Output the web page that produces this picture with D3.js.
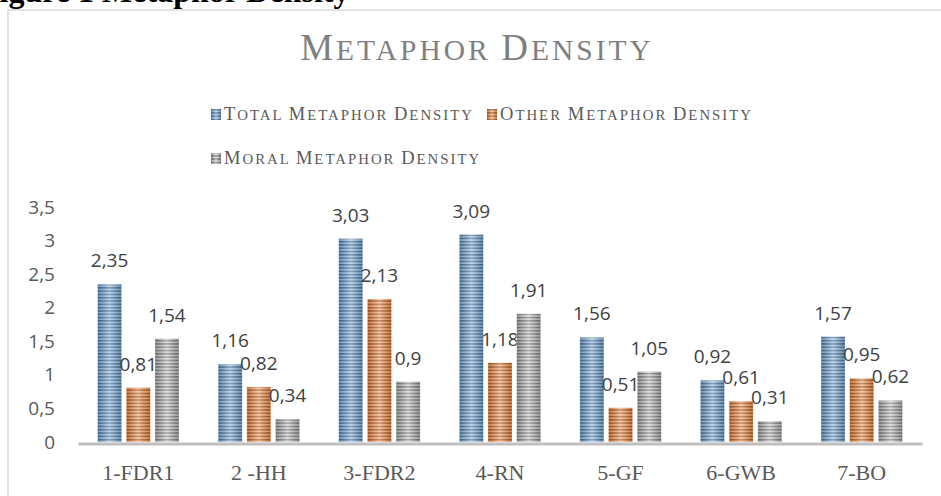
<!DOCTYPE html>
<html>
<head>
<meta charset="utf-8">
<script src="https://cdn.jsdelivr.net/npm/d3@7"></script>
<style>
  body { margin: 0; background: #fff; }
  svg { display: block; }
</style>
</head>
<body>
<script>
const categories = ["1-FDR1", "2 -HH", "3-FDR2", "4-RN", "5-GF", "6-GWB", "7-BO"];
const seriesNames = ["Total Metaphor Density", "Other Metaphor Density", "Moral Metaphor Density"];
const totalDensity = [2.35, 1.16, 3.03, 3.09, 1.56, 0.92, 1.57];
const otherDensity = [0.81, 0.82, 2.13, 1.18, 0.51, 0.61, 0.95];
const moralDensity = [1.54, 0.34, 0.9, 1.91, 1.05, 0.31, 0.62];
const yTicks = [0, 0.5, 1, 1.5, 2, 2.5, 3, 3.5];

const w = 941, h = 496;
const colors = [
  { dark: "#41719c", mid: "#5b9bd5", light: "#a9c8ea" },
  { dark: "#b85511", mid: "#ed7d31", light: "#f6b88c" },
  { dark: "#7a7a7a", mid: "#a5a5a5", light: "#d6d6d6" }
];
const series = [totalDensity, otherDensity, moralDensity];
const fmt = v => String(v).replace(".", ",");

const svg = d3.select("body").append("svg").attr("width", w).attr("height", h);
const defs = svg.append("defs");

colors.forEach((c, i) => {
  const g = defs.append("linearGradient").attr("id", "grad" + i)
    .attr("x1", 0).attr("x2", 1).attr("y1", 0).attr("y2", 0);
  g.append("stop").attr("offset", "0%").attr("stop-color", c.dark);
  g.append("stop").attr("offset", "50%").attr("stop-color", c.light);
  g.append("stop").attr("offset", "100%").attr("stop-color", c.dark);
});
const stripes = defs.append("pattern").attr("id", "stripes")
  .attr("patternUnits", "userSpaceOnUse").attr("width", 8).attr("height", 3.3);
stripes.append("rect").attr("width", 8).attr("height", 1.5).attr("fill", "rgba(0,0,0,0.22)");
stripes.append("rect").attr("y", 1.5).attr("width", 8).attr("height", 1.8).attr("fill", "rgba(255,255,255,0.25)");

// page caption, cut at the top
svg.append("text").attr("x", -20).attr("y", 2)
  .attr("font-family", "Liberation Serif").attr("font-weight", "bold").attr("font-size", 32)
  .attr("fill", "#000").text("Figure 1 Metaphor Density");

// chart frame
svg.append("path").attr("d", "M8,496 V10 H941").attr("fill", "none")
  .attr("stroke", "#d9d9d9").attr("stroke-width", 1.5);

// small caps helper
function smallCaps(sel, str, big, small, spacing) {
  str.split("").forEach(ch => {
    const up = ch === ch.toUpperCase() && ch !== " ";
    sel.append("tspan").attr("font-size", up ? big : small)
      .attr("letter-spacing", spacing).text(ch.toUpperCase());
  });
}

const title = svg.append("text").attr("x", 477).attr("y", 60).attr("text-anchor", "middle")
  .attr("font-family", "Liberation Serif").attr("fill", "#7f7f7f");
smallCaps(title, "Metaphor Density", 37, 29.5, 3);

// legend
const legendRows = [[0, 1], [2]];
const legendX = 211, legendY = [120, 164];
legendRows.forEach((row, r) => {
  let x = legendX;
  row.forEach(i => {
    svg.append("rect").attr("x", x).attr("y", legendY[r] - 11).attr("width", 10).attr("height", 11)
      .attr("fill", "url(#grad" + i + ")");
    svg.append("rect").attr("x", x).attr("y", legendY[r] - 11).attr("width", 10).attr("height", 11)
      .attr("fill", "url(#stripes)");
    const t = svg.append("text").attr("x", x + 13).attr("y", legendY[r])
      .attr("font-family", "Liberation Serif").attr("fill", "#595959");
    smallCaps(t, seriesNames[i], 18.5, 14.8, 2);
    x += 13 + t.node().getComputedTextLength() + 13;
  });
});

// scales
const x0 = d3.scaleBand().domain(categories).range([78, 922]);
const x1 = d3.scaleBand().domain([0, 1, 2]).range([0, x0.bandwidth()])
  .paddingInner(0.164).paddingOuter(0.683);
const y = d3.scaleLinear().domain([0, 3.5]).range([442, 207]);

// y tick labels
const yAxis = svg.append("g").attr("transform", "translate(62,0)")
  .call(d3.axisLeft(y).tickValues(yTicks).tickFormat(fmt).tickSize(0).tickPadding(7));
yAxis.select(".domain").remove();
yAxis.selectAll("text").attr("font-family", "Open Sans").attr("font-size", 19).attr("fill", "#595959");

// bars
categories.forEach((cat, ci) => {
  const g = svg.append("g").attr("transform", "translate(" + x0(cat) + ",0)");
  series.forEach((vals, si) => {
    const bx = x1(si), by = y(vals[ci]), bh = y(0) - y(vals[ci]);
    g.append("rect").attr("x", bx).attr("y", by).attr("width", x1.bandwidth()).attr("height", bh)
      .attr("fill", "url(#grad" + si + ")");
    g.append("rect").attr("x", bx).attr("y", by).attr("width", x1.bandwidth()).attr("height", bh)
      .attr("fill", "url(#stripes)").attr("stroke", "rgba(255,255,255,0.5)").attr("stroke-width", 0.6);
    g.append("text").attr("x", bx + x1.bandwidth() / 2).attr("y", by - 17)
      .attr("text-anchor", "middle").attr("font-family", "Open Sans").attr("font-size", 19)
      .attr("fill", "#404040").text(fmt(vals[ci]));
  });
});

// x axis
const xAxis = svg.append("g").attr("transform", "translate(0,443.5)")
  .call(d3.axisBottom(x0).tickSize(0).tickPadding(21));
xAxis.select(".domain").attr("stroke", "#bfbfbf").attr("stroke-width", 3);
xAxis.selectAll("text").attr("font-family", "Liberation Serif").attr("font-size", 22).attr("fill", "#595959");
</script>
</body>
</html>
